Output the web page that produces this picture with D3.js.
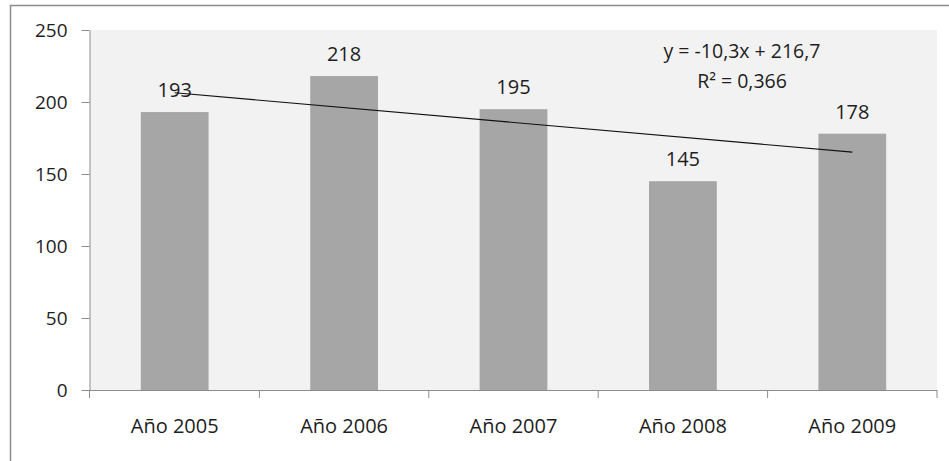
<!DOCTYPE html>
<html>
<head>
<meta charset="utf-8">
<script src="https://cdn.jsdelivr.net/npm/d3@7"></script>
<style>
  html, body { margin: 0; padding: 0; background: #fff; }
  svg { display: block; font-family: "Open Sans", "Liberation Sans", sans-serif; }
</style>
</head>
<body>
<svg id="chart" width="949" height="461"></svg>
<script>
// Yearly totals
const categories = ["Año 2005", "Año 2006", "Año 2007", "Año 2008", "Año 2009"];
const values = [193, 218, 195, 145, 178];
const yTicks = [0, 50, 100, 150, 200, 250];

const svg = d3.select("#chart");
const W = 949, H = 461;
const plot = { left: 90, top: 30, right: 937, bottom: 390 };
const textColor = "#1e1e1e";

// Chart frame
svg.append("rect")
  .attr("x", 10.5).attr("y", 5.5)
  .attr("width", W + 20).attr("height", H + 20)
  .attr("fill", "#fff").attr("stroke", "#8c8c8c").attr("stroke-width", 1.5);

// Plot area
svg.append("rect")
  .attr("x", plot.left).attr("y", plot.top)
  .attr("width", plot.right - plot.left).attr("height", plot.bottom - plot.top)
  .attr("fill", "#f2f2f2");

const x = d3.scaleBand()
  .domain(categories)
  .range([plot.left, plot.right])
  .paddingInner(0.6)
  .paddingOuter(0.3);

const y = d3.scaleLinear().domain([0, 250]).range([plot.bottom, plot.top]);

// Bars
svg.append("g").selectAll("rect")
  .data(values)
  .join("rect")
  .attr("x", (d, i) => x(categories[i]))
  .attr("y", d => y(d))
  .attr("width", x.bandwidth())
  .attr("height", d => y(0) - y(d))
  .attr("fill", "#a6a6a6");

// Value labels
svg.append("g").selectAll("text")
  .data(values)
  .join("text")
  .attr("x", (d, i) => x(categories[i]) + x.bandwidth() / 2)
  .attr("y", d => y(d) - 15)
  .attr("text-anchor", "middle")
  .attr("font-size", 20)
  .attr("fill", textColor)
  .text(d => d);

// Linear trend (least squares on category index 1..n)
const n = values.length;
const xs = values.map((d, i) => i + 1);
const mx = d3.mean(xs), my = d3.mean(values);
const slope = d3.sum(xs, (xi, i) => (xi - mx) * (values[i] - my)) / d3.sum(xs, xi => (xi - mx) ** 2);
const intercept = my - slope * mx;
const ssTot = d3.sum(values, v => (v - my) ** 2);
const ssRes = d3.sum(values, (v, i) => (v - (intercept + slope * xs[i])) ** 2);
const r2 = 1 - ssRes / ssTot;

const center = i => x(categories[i]) + x.bandwidth() / 2;
svg.append("line")
  .attr("x1", center(0)).attr("y1", y(intercept + slope * 1))
  .attr("x2", center(n - 1)).attr("y2", y(intercept + slope * n))
  .attr("stroke", "#111").attr("stroke-width", 1.1);

const fmt = v => v.toFixed(1).replace(".", ",");
const eq = svg.append("g").attr("font-size", 19.5).attr("fill", textColor).attr("text-anchor", "middle");
eq.append("text").attr("x", 742).attr("y", 58)
  .text(`y = ${fmt(slope)}x + ${fmt(intercept)}`);
eq.append("text").attr("x", 742).attr("y", 88)
  .text(`R² = ${r2.toFixed(3).replace(".", ",")}`);

// Y axis
const yAxis = svg.append("g")
  .attr("transform", `translate(${plot.left - 0.5},0)`)
  .call(d3.axisLeft(y).tickValues(yTicks).tickSize(8).tickPadding(14).tickSizeOuter(0));
yAxis.select(".domain").attr("stroke", "#8c8c8c");
yAxis.selectAll(".tick line").attr("stroke", "#8c8c8c");
yAxis.selectAll(".tick text").attr("font-size", 19).attr("fill", textColor)
  .attr("font-family", "Open Sans, Liberation Sans, sans-serif");

// X axis baseline with boundary ticks between categories
const xAxisG = svg.append("g");
xAxisG.append("line")
  .attr("x1", plot.left - 0.5).attr("x2", plot.right)
  .attr("y1", plot.bottom + 0.5).attr("y2", plot.bottom + 0.5)
  .attr("stroke", "#8c8c8c");
const bounds = d3.range(n + 1).map(i => plot.left + i * x.step() - (i === 0 ? 0.5 : 0));
xAxisG.selectAll("line.b")
  .data(bounds)
  .join("line")
  .attr("class", "b")
  .attr("x1", d => d).attr("x2", d => d)
  .attr("y1", plot.bottom).attr("y2", plot.bottom + 8)
  .attr("stroke", "#8c8c8c");
xAxisG.selectAll("text")
  .data(categories)
  .join("text")
  .attr("x", d => x(d) + x.bandwidth() / 2)
  .attr("y", 433)
  .attr("text-anchor", "middle")
  .attr("font-size", 20)
  .attr("fill", textColor)
  .text(d => d);
</script>
</body>
</html>
